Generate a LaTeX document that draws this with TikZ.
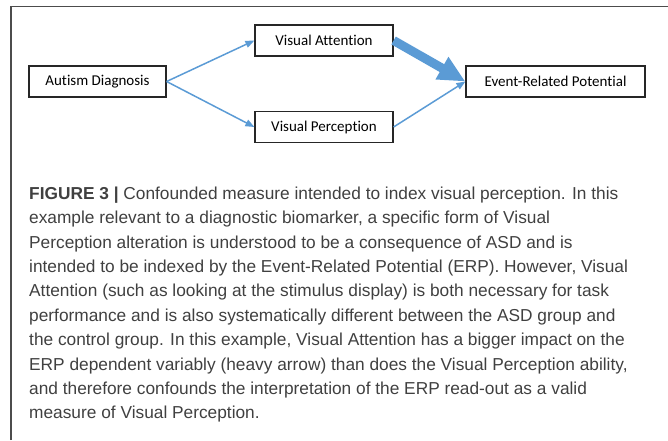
\documentclass[tikz,border=0pt]{standalone}
\usepackage{fontspec}
\setmainfont{Liberation Sans}
\newfontfamily\boxfont[Ligatures=NoCommon]{Carlito}
\usetikzlibrary{arrows.meta}
\definecolor{arrowblue}{RGB}{91,155,213}
\definecolor{captiongray}{RGB}{64,64,64}

\begin{document}
\begin{tikzpicture}[x=1pt,y=1pt]
              \tikzstyle{every node}+=[inner sep=0pt]
              \tikzstyle{box}=[draw=black!85, line width=1.2pt, minimum height=31pt, font=\boxfont\fontsize{15}{18}\selectfont]
              \tikzstyle{link}=[arrowblue, line width=1.5pt, -{Triangle[length=9pt,width=7pt]}]
              \tikzstyle{heavy}=[arrowblue, line width=9pt, -{Triangle[length=27pt,width=24pt]}]
              \useasboundingbox (0,0) rectangle (668,-440);
              \draw [black!70, line width=1.2pt] (11,-440) -- (11,-6.5) -- (668,-6.5);
              \draw (97.5,-81.5) node [box, minimum width=137pt] (diag) {Autism Diagnosis};
              \draw (324,-40.5) node [box, minimum width=138pt] (att) {Visual Attention};
              \draw (324,-127) node [box, minimum width=138pt] (perc) {Visual Perception};
              \draw (555.5,-81.5) node [box, minimum width=179pt] (erp) {Event-Related Potential};
              \draw [link] (diag.east) -- (att.west);
              \draw [link] (diag.east) -- (perc.west);
              \draw [heavy] (att.east) -- (erp.west);
              \draw [link] (perc.east) -- (erp.west);
              \draw (29,-186.5) node [anchor=north west, align=left, text=captiongray, font=\fontsize{17.3}{24.4}\selectfont] (caption)
                {\textbf{FIGURE 3 |} Confounded measure intended to index visual perception. In this\\
                example relevant to a diagnostic biomarker, a specific form of Visual\\
                Perception alteration is understood to be a consequence of ASD and is\\
                intended to be indexed by the Event-Related Potential (ERP). However, Visual\\
                Attention (such as looking at the stimulus display) is both necessary for task\\
                performance and is also systematically different between the ASD group and\\
                the control group. In this example, Visual Attention has a bigger impact on the\\
                ERP dependent variably (heavy arrow) than does the Visual Perception ability,\\
                and therefore confounds the interpretation of the ERP read-out as a valid\\
                measure of Visual Perception.};
            \end{tikzpicture}
\end{document}
